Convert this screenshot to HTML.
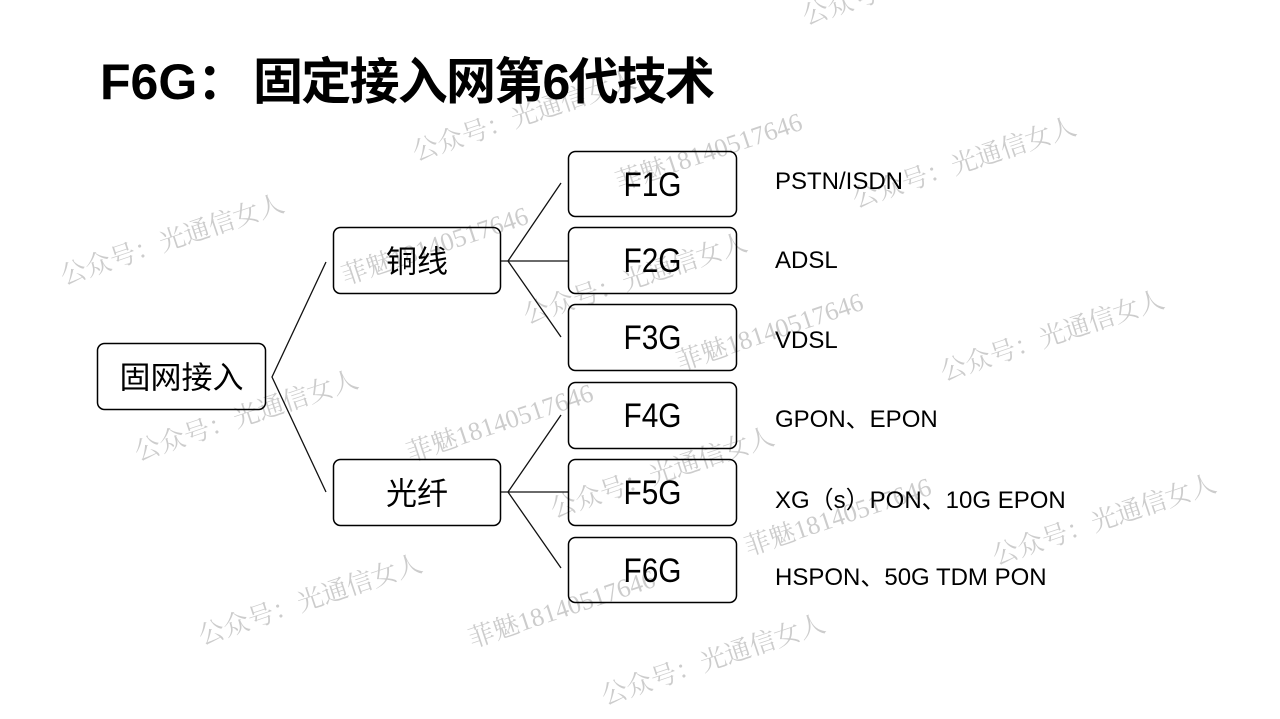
<!DOCTYPE html>
<html>
<head>
<meta charset="utf-8">
<style>
  html, body { margin:0; padding:0; background:#fff; }
  body { width:1280px; height:719px; overflow:hidden; }
  svg { display:block; }
  .cjk { font-family: "Liberation Sans", "Noto Sans CJK SC", sans-serif; }
  .wm { font-family: "Liberation Serif", "Noto Serif CJK SC", serif; font-size:26px; fill:#000; fill-opacity:0.2; }
</style>
</head>
<body>
<svg width="1280" height="719" viewBox="0 0 1280 719" xmlns="http://www.w3.org/2000/svg">
  <rect x="0" y="0" width="1280" height="719" fill="#fff"/>

  <!-- Title -->
  <text x="100" y="99" class="cjk" font-size="50" font-weight="bold" fill="#000">F6G：</text>
  <text x="253" y="99" class="cjk" font-size="50" font-weight="bold" fill="#000" textLength="462" lengthAdjust="spacing">固定接入网第6代技术</text>

  <!-- Connectors -->
  <g stroke="#111" stroke-width="1.3" fill="none">
    <polyline points="326,262 272,377 326,492"/>
    <line x1="501" y1="261" x2="568" y2="261"/>
    <polyline points="561,183 508,261 561,337"/>
    <line x1="501" y1="492" x2="568" y2="492"/>
    <polyline points="561,415 508,492 561,568"/>
  </g>

  <!-- Boxes -->
  <g fill="#fff" stroke="#000" stroke-width="1.5">
    <rect x="97.5" y="343.5" width="168" height="66" rx="7"/>
    <rect x="333.5" y="227.5" width="167" height="66" rx="7"/>
    <rect x="333.5" y="459.5" width="167" height="66" rx="7"/>
    <rect x="568.5" y="151.5" width="168" height="65" rx="7"/>
    <rect x="568.5" y="227.5" width="168" height="66" rx="7"/>
    <rect x="568.5" y="304.5" width="168" height="66" rx="7"/>
    <rect x="568.5" y="382.5" width="168" height="66" rx="7"/>
    <rect x="568.5" y="459.5" width="168" height="66" rx="7"/>
    <rect x="568.5" y="537.5" width="168" height="65" rx="7"/>
  </g>

  <!-- Box labels -->
  <g class="cjk" font-size="31" fill="#000" text-anchor="middle">
    <text x="181.5" y="388.5">固网接入</text>
    <text x="417" y="272.5">铜线</text>
    <text x="417" y="504.5">光纤</text>
  </g>
  <g font-family="Liberation Sans, sans-serif" font-size="34" fill="#000" text-anchor="middle">
    <text x="652.5" y="196" textLength="58" lengthAdjust="spacingAndGlyphs">F1G</text>
    <text x="652.5" y="272" textLength="58" lengthAdjust="spacingAndGlyphs">F2G</text>
    <text x="652.5" y="349" textLength="58" lengthAdjust="spacingAndGlyphs">F3G</text>
    <text x="652.5" y="427" textLength="58" lengthAdjust="spacingAndGlyphs">F4G</text>
    <text x="652.5" y="504" textLength="58" lengthAdjust="spacingAndGlyphs">F5G</text>
    <text x="652.5" y="582" textLength="58" lengthAdjust="spacingAndGlyphs">F6G</text>
  </g>

  <!-- Right descriptions -->
  <g class="cjk" font-size="24" fill="#000">
    <text x="775" y="189">PSTN/ISDN</text>
    <text x="775" y="268">ADSL</text>
    <text x="775" y="348">VDSL</text>
    <text x="775" y="427">GPON、EPON</text>
    <text x="775" y="508">XG（s）PON、10G EPON</text>
    <text x="775" y="585">HSPON、50G TDM PON</text>
  </g>

  <!-- Watermarks -->
  <g class="wm">
    <text x="64" y="285" transform="rotate(-18.5 64 285)">公众号：光通信女人</text>
    <text x="345" y="285" transform="rotate(-18.5 345 285)">菲魅18140517646</text>
    <text x="138" y="461" transform="rotate(-18.5 138 461)">公众号：光通信女人</text>
    <text x="410" y="462" transform="rotate(-18.5 410 462)">菲魅18140517646</text>
    <text x="416" y="161" transform="rotate(-18.5 416 161)">公众号：光通信女人</text>
    <text x="619" y="191" transform="rotate(-18.5 619 191)">菲魅18140517646</text>
    <text x="806" y="25" transform="rotate(-18.5 806 25)">公众号：光通信女人</text>
    <text x="856" y="208" transform="rotate(-18.5 856 208)">公众号：光通信女人</text>
    <text x="680" y="371" transform="rotate(-18.5 680 371)">菲魅18140517646</text>
    <text x="527" y="324" transform="rotate(-18.5 527 324)">公众号：光通信女人</text>
    <text x="944" y="381" transform="rotate(-18.5 944 381)">公众号：光通信女人</text>
    <text x="554" y="518" transform="rotate(-18.5 554 518)">公众号：光通信女人</text>
    <text x="748" y="556" transform="rotate(-18.5 748 556)">菲魅18140517646</text>
    <text x="996" y="565" transform="rotate(-18.5 996 565)">公众号：光通信女人</text>
    <text x="202" y="645" transform="rotate(-18.5 202 645)">公众号：光通信女人</text>
    <text x="472" y="648" transform="rotate(-18.5 472 648)">菲魅18140517646</text>
    <text x="605" y="705" transform="rotate(-18.5 605 705)">公众号：光通信女人</text>
  </g>
</svg>
</body>
</html>
